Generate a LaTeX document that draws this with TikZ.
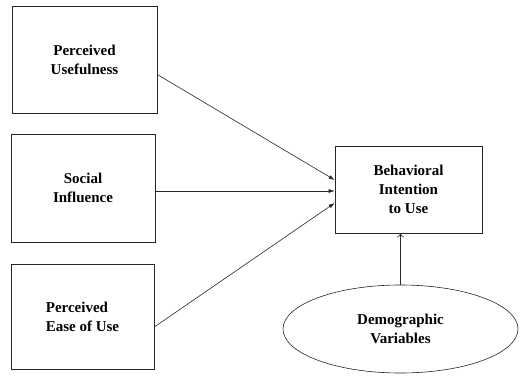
\documentclass[tikz,border=0pt]{standalone}
\usepackage{fontspec}
\setmainfont{Liberation Serif}
\usepackage{tikz}
\usetikzlibrary{arrows.meta,shapes.geometric}

\tikzset{
  factor/.style={draw=black!85, line width=0.6pt, rectangle, align=center,
    font=\bfseries\fontsize{15}{19}\selectfont},
  demog/.style={draw=black!85, line width=0.6pt, ellipse, align=center,
    font=\bfseries\fontsize{15}{19}\selectfont},
  link/.style={draw=black!85, line width=0.6pt, -{Latex[length=6pt,width=4pt]}},
  openlink/.style={draw=black!85, line width=0.6pt, -{To[length=4pt,width=7pt]}}
}

\begin{document}
\begin{tikzpicture}[x=1pt,y=1pt]
        \useasboundingbox (0,0) rectangle (520,376);
        % the three determinants
        \node[factor, minimum width=145pt, minimum height=107pt] (pu) at (84.5,316.5) {Perceived\\Usefulness};
        \node[factor, minimum width=144pt, minimum height=108pt] (si) at (83,188) {Social\\Influence};
        \node[factor, minimum width=143pt, minimum height=105pt, align=left] (pe) at (82.5,59) {Perceived\\Ease of Use};
        % intention and moderator
        \node[factor, minimum width=147pt, minimum height=87pt] (bi) at (408.5,186.5) {Behavioral\\Intention\\to Use};
        \node[demog, minimum width=235pt, minimum height=88pt, inner sep=0pt] (dv) at (400.5,47) {Demographic\\Variables};
        \draw[link] ([yshift=-15pt]pu.east) -- ([yshift=9.5pt]bi.west);
        \draw[link] ([yshift=-3pt]si.east) -- ([yshift=-1.5pt]bi.west);
        \draw[link] ([yshift=-10pt]pe.east) -- ([yshift=-13.5pt]bi.west);
        \draw[openlink] (dv.north) -- (dv.north |- bi.south);
\end{tikzpicture}
\end{document}
